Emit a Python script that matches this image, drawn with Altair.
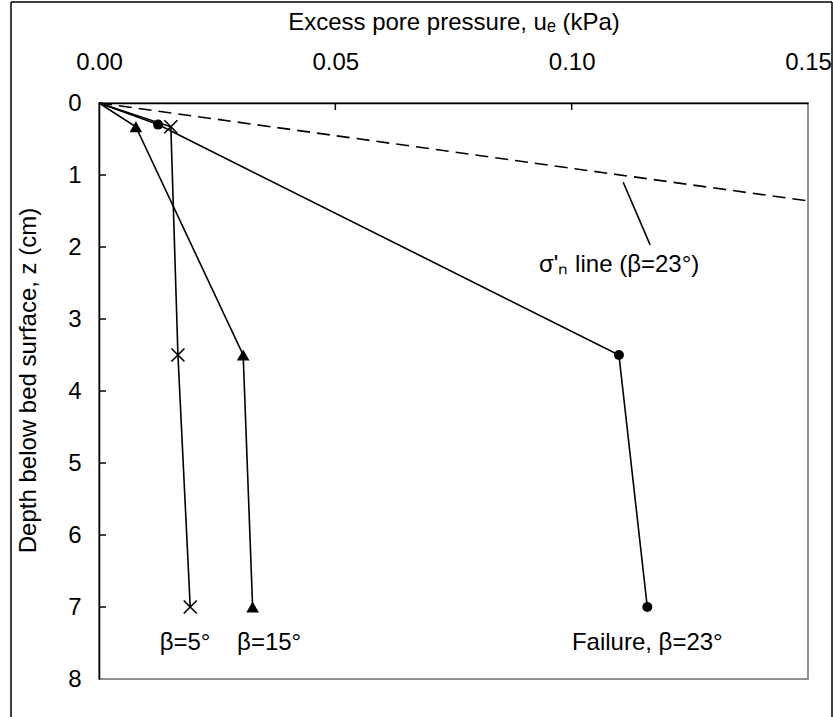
import altair as alt
import pandas as pd

# ---- data ----
depth_fail = [0, 0.3, 3.5, 7]
ue_fail = [0, 0.0125, 0.110, 0.116]
depth_b15 = [0, 0.33, 3.5, 7]
ue_b15 = [0, 0.0078, 0.0305, 0.0325]
depth_b5 = [0, 0.33, 3.5, 7]
ue_b5 = [0, 0.0152, 0.0167, 0.0193]
sigma_ue = [0, 0.15]
sigma_depth = [0, 1.36]

x_ticks = [0.0, 0.05, 0.10, 0.15]
y_ticks = [0, 1, 2, 3, 4, 5, 6, 7, 8]
inner_x_ticks = [0.05, 0.10]
inner_y_ticks = [1, 2, 3, 4, 5, 6, 7]

label_text = ["β=5°", "β=15°", "Failure, β=23°"]
label_ue = [0.0182, 0.0360, 0.116]
label_depth = [7.5, 7.5, 7.5]
sigma_label = "σ'ₙ line (β=23°)"
sigma_label_ue = [0.0931]
sigma_label_depth = [2.25]
leader_ue = [0.1109, 0.1166]
leader_depth = [1.10, 1.97]

FONT = "Liberation Sans"
FS = 24

rows = []
for name, us, ds in [("fail", ue_fail, depth_fail), ("b15", ue_b15, depth_b15), ("b5", ue_b5, depth_b5)]:
    for i, (u, d) in enumerate(zip(us, ds)):
        rows.append({"series": name, "ue": u, "z": d, "i": i})
df = pd.DataFrame(rows)
pts = df[df["i"] > 0]

xscale = alt.Scale(domain=[0, 0.15], nice=False, zero=False)
yscale = alt.Scale(domain=[0, 8], reverse=True, nice=False, zero=False)

X = alt.X("ue:Q", scale=xscale,
          axis=alt.Axis(orient="top", values=x_ticks, format=".2f", title="Excess pore pressure, uₑ (kPa)",
                        ticks=False, labelPadding=29, titlePadding=16, labelFlush=False, labelOverlap=False,
                        domainColor="black", domainWidth=1.5, grid=False))
Y = alt.Y("z:Q", scale=yscale,
          axis=alt.Axis(values=y_ticks, format="d", title="Depth below bed surface, z (cm)",
                        ticks=False, labelPadding=18, titlePadding=27, titleY=277, labelFlush=False,
                        labelOverlap=False, domainColor="black", domainWidth=1.5, grid=False))

lines = alt.Chart(df).mark_line(color="black", strokeWidth=1.6).encode(
    x=X, y=Y, detail="series:N", order="i:Q")

sig = alt.Chart(pd.DataFrame({"ue": sigma_ue, "z": sigma_depth})).mark_line(
    color="black", strokeWidth=1.6, strokeDash=[13, 7]).encode(x="ue:Q", y="z:Q")

circ = alt.Chart(pts[pts.series == "fail"]).mark_point(
    shape="circle", filled=True, color="black", size=100, opacity=1).encode(x="ue:Q", y="z:Q")
tri = alt.Chart(pts[pts.series == "b15"]).mark_point(
    shape="triangle-up", filled=True, color="black", size=160, opacity=1).encode(x="ue:Q", y="z:Q")
crs = alt.Chart(pts[pts.series == "b5"]).mark_point(
    shape="M-1,-1L1,1M-1,1L1,-1", filled=False, color="black", strokeWidth=1.6, size=170, opacity=1
).encode(x="ue:Q", y="z:Q")

labels = alt.Chart(pd.DataFrame({"t": label_text, "ue": label_ue, "z": label_depth})).mark_text(
    font=FONT, fontSize=FS, color="black", align="center", baseline="middle").encode(
    x="ue:Q", y="z:Q", text="t:N")

slabel = alt.Chart(pd.DataFrame({"t": [sigma_label], "ue": sigma_label_ue, "z": sigma_label_depth})).mark_text(
    font=FONT, fontSize=FS, color="black", align="left", baseline="middle").encode(
    x="ue:Q", y="z:Q", text="t:N")

leader = alt.Chart(pd.DataFrame({"ue": [leader_ue[0]], "ue2": [leader_ue[1]],
                                 "z": [leader_depth[0]], "z2": [leader_depth[1]]})).mark_rule(
    color="black", strokeWidth=1.6).encode(x="ue:Q", x2="ue2:Q", y="z:Q", y2="z2:Q")

xt = alt.Chart(pd.DataFrame({"v": inner_x_ticks})).mark_rule(color="black", strokeWidth=1.5).encode(
    x="v:Q", y=alt.value(0), y2=alt.value(7))
yt = alt.Chart(pd.DataFrame({"v": inner_y_ticks})).mark_rule(color="black", strokeWidth=1.5).encode(
    y="v:Q", x=alt.value(0), x2=alt.value(7))

frame_df = pd.DataFrame({"k": [0]})
fl = alt.Chart(frame_df).mark_rule(color="black", strokeWidth=1.5).encode(
    x=alt.value(-88), y=alt.value(-101), y2=alt.value(640))
ft = alt.Chart(frame_df).mark_rule(color="black", strokeWidth=1.5).encode(
    x=alt.value(-88), x2=alt.value(733), y=alt.value(-101))
fr = alt.Chart(frame_df).mark_rule(color="black", strokeWidth=1.5).encode(
    x=alt.value(733), y=alt.value(-101), y2=alt.value(640))

chart = alt.layer(lines, sig, leader, circ, tri, crs, labels, slabel, xt, yt, fl, ft, fr).properties(
    width=709, height=576,
    autosize=alt.AutoSizeParams(type="none"),
    padding={"left": 99, "top": 103, "right": 25, "bottom": 38},
    background="white",
).configure_view(stroke="#6e6e6e", strokeWidth=1.5).configure_axis(
    labelFont=FONT, labelFontSize=FS, labelColor="black",
    titleFont=FONT, titleFontSize=FS, titleFontWeight="normal", titleColor="black",
)

chart.save("out.html", embed_options={"renderer": "svg", "actions": False})
